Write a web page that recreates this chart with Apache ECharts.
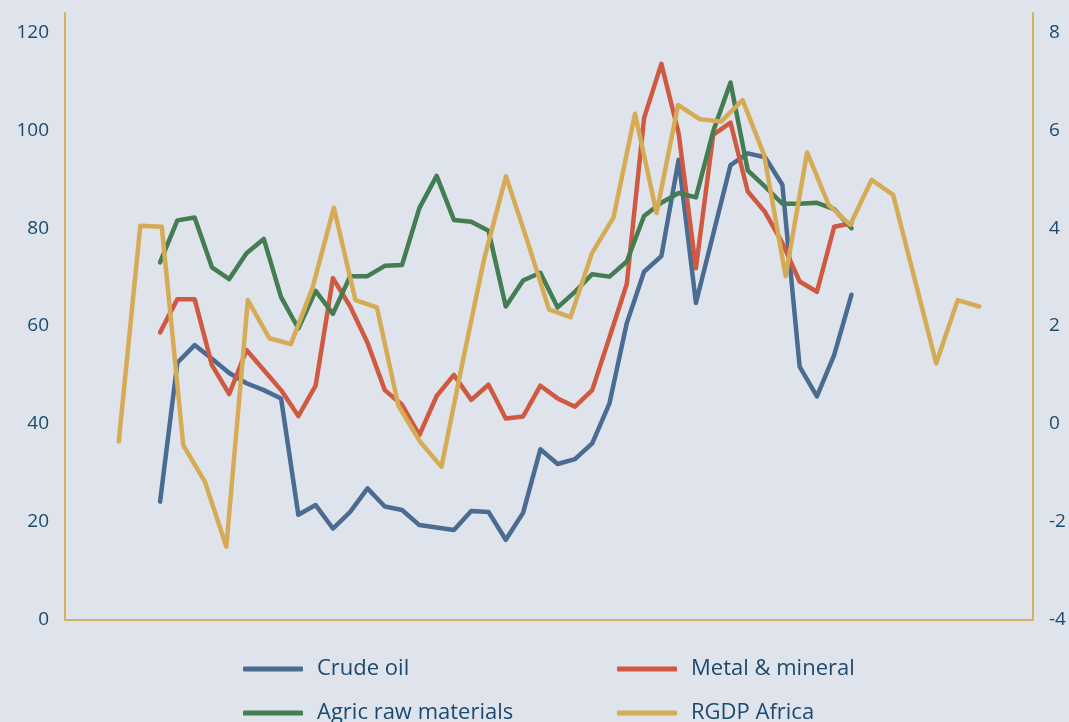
<!DOCTYPE html>
<html>
<head>
<meta charset="utf-8">
<title>Commodity prices and RGDP Africa</title>
<script src="https://cdn.jsdelivr.net/npm/echarts@6/dist/echarts.min.js"></script>
<style>
  html, body { margin: 0; padding: 0; background: #dfe3ec; }
  #chart { width: 1069px; height: 722px; }
</style>
</head>
<body>
<div id="chart"></div>
<script>
// Years covered by every series
const years = ['1978','1979','1980','1981','1982','1983','1984','1985','1986','1987',
  '1988','1989','1990','1991','1992','1993','1994','1995','1996','1997',
  '1998','1999','2000','2001','2002','2003','2004','2005','2006','2007',
  '2008','2009','2010','2011','2012','2013','2014','2015','2016','2017','2018'];

// Price indices (left axis)
const crudeOil = [24.1, 52.5, 56.1, 53.3, 50.4, 48.3, 46.9, 45.2, 21.4, 23.4,
  18.6, 22.0, 26.8, 23.1, 22.4, 19.3, 18.8, 18.3, 22.2, 22.0,
  16.3, 21.8, 34.8, 31.8, 32.8, 36.0, 44.2, 60.6, 71.1, 74.3,
  94.0, 64.7, 78.8, 92.9, 95.3, 94.5, 88.9, 51.7, 45.6, 54.1, 66.4];
const metalMineral = [58.7, 65.5, 65.5, 52.0, 46.1, 55.1, 51.0, 46.9, 41.6, 47.8,
  69.8, 64.0, 56.6, 46.9, 43.9, 37.7, 45.7, 50.0, 44.9, 48.0,
  41.1, 41.5, 47.8, 45.2, 43.5, 46.9, 57.7, 68.6, 102.5, 113.6,
  99.4, 71.8, 99.1, 101.6, 87.5, 83.3, 77.0, 69.1, 67.0, 80.3, 81.0];
const agricRaw = [73.0, 81.6, 82.2, 72.0, 69.6, 74.9, 77.8, 65.9, 59.5, 67.2,
  62.5, 70.2, 70.2, 72.3, 72.5, 84.1, 90.7, 81.7, 81.3, 79.5,
  64.0, 69.3, 70.9, 63.8, 67.0, 70.6, 70.1, 73.2, 82.5, 85.2,
  87.2, 86.3, 99.8, 109.8, 91.8, 88.5, 85.0, 85.0, 85.2, 83.9, 80.0];

// Real GDP growth, % (right axis)
const rgdpAfrica = [-0.36, 4.05, 4.03, -0.44, -1.18, -2.51, 2.53, 1.75, 1.63, 2.77,
  4.42, 2.53, 2.38, 0.37, -0.36, -0.88, 1.3, 3.4, 5.06, 3.73,
  2.34, 2.18, 3.49, 4.22, 6.34, 4.31, 6.52, 6.23, 6.18, 6.62,
  5.50, 3.02, 5.55, 4.48, 4.07, 4.99, 4.68, 2.96, 1.24, 2.53, 2.40];

// Tick labels
const leftTicks = [0, 20, 40, 60, 80, 100, 120];
const rightTicks = [-4, -2, 0, 2, 4, 6, 8];

const seriesNames = ['Crude oil', 'Metal & mineral', 'Agric raw materials', 'RGDP Africa'];
const seriesColors = ['#4a6b92', '#cf5a41', '#447d52', '#d5ab55'];

function yearRange(from, to) {
  const out = [];
  for (let y = from; y <= to; y++) out.push(String(y));
  return out;
}
// Commodity series sit on the main category axis, GDP growth on a secondary one
const mainCategories = yearRange(1973, 2028);
const secondaryCategories = yearRange(1976, 2020);

const pairs = (vals) => years.map((y, i) => [y, vals[i]]);

const axisGold = '#d5b064';
const textNavy = '#1b4a6e';
const font = 'Open Sans';

const lineSeries = (name, idx, vals, xi, yi) => ({
  name: name,
  type: 'line',
  xAxisIndex: xi,
  yAxisIndex: yi,
  data: pairs(vals),
  symbol: 'none',
  smooth: false,
  lineStyle: { width: 4.5, color: seriesColors[idx], cap: 'round', join: 'round' },
  itemStyle: { color: seriesColors[idx] },
  z: 2 + idx
});

const legendPos = [
  { left: 243, top: 658 },
  { left: 617, top: 658 },
  { left: 243, top: 702 },
  { left: 617, top: 702 }
];

const chart = echarts.init(document.getElementById('chart'), null, { renderer: 'canvas' });
chart.setOption({
  backgroundColor: '#dfe3ec',
  animation: false,
  textStyle: { fontFamily: font },
  grid: { left: 65, right: 36, top: 13, bottom: 102.5, containLabel: false },
  legend: seriesNames.map((n, i) => ({
    data: [n],
    left: legendPos[i].left,
    top: legendPos[i].top,
    padding: 0,
    itemWidth: 60,
    itemHeight: 5,
    icon: 'roundRect',
    itemStyle: { color: seriesColors[i] },
    textStyle: { color: textNavy, fontSize: 22, fontFamily: font, padding: [0, 0, 0, 9] }
  })),
  xAxis: [
    {
      type: 'category',
      data: mainCategories,
      boundaryGap: true,
      position: 'bottom',
      axisLine: { show: true, lineStyle: { color: axisGold, width: 2 } },
      axisTick: { show: false },
      axisLabel: { show: false },
      splitLine: { show: false }
    },
    {
      type: 'category',
      data: secondaryCategories,
      boundaryGap: true,
      position: 'bottom',
      show: false
    }
  ],
  yAxis: [
    {
      type: 'value',
      min: leftTicks[0],
      max: 124,
      interval: 20,
      position: 'left',
      axisLine: { show: true, lineStyle: { color: axisGold, width: 2 } },
      axisTick: { show: false },
      splitLine: { show: false },
      axisLabel: {
        margin: 16, color: textNavy, fontSize: 19, fontFamily: font,
        showMaxLabel: false,
        formatter: (v) => leftTicks.includes(v) ? String(v) : ''
      }
    },
    {
      type: 'value',
      min: rightTicks[0],
      max: 8.4,
      interval: 2,
      position: 'right',
      axisLine: { show: true, lineStyle: { color: axisGold, width: 2 } },
      axisTick: { show: false },
      splitLine: { show: false },
      axisLabel: {
        margin: 16, color: textNavy, fontSize: 19, fontFamily: font,
        showMaxLabel: false,
        formatter: (v) => rightTicks.includes(v) ? String(v) : ''
      }
    }
  ],
  series: [
    lineSeries(seriesNames[0], 0, crudeOil, 0, 0),
    lineSeries(seriesNames[1], 1, metalMineral, 0, 0),
    lineSeries(seriesNames[2], 2, agricRaw, 0, 0),
    lineSeries(seriesNames[3], 3, rgdpAfrica, 1, 1)
  ]
});
</script>
</body>
</html>
